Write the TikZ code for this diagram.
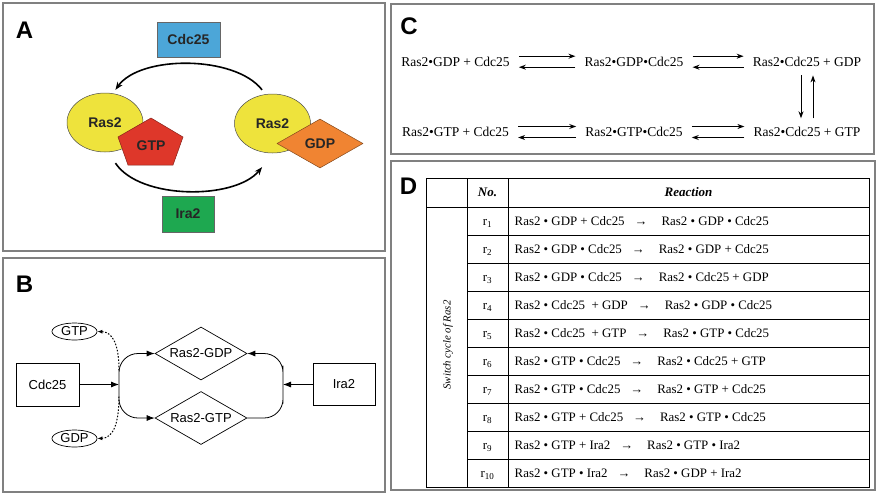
\documentclass[tikz,border=0pt]{standalone}
\usepackage{fontspec}
\setmainfont{Liberation Serif}
\newfontfamily\arialfont{Liberation Sans}
\usetikzlibrary{shapes.geometric,positioning,arrows.meta}

\definecolor{rasyellow}{RGB}{238,227,60}
\definecolor{gtpred}{RGB}{222,55,42}
\definecolor{gdporange}{RGB}{240,132,50}
\definecolor{cdcblue}{RGB}{76,166,216}
\definecolor{iragreen}{RGB}{30,168,80}

\tikzset{
  panel/.style={draw=black!50, line width=1.3pt},
  plabel/.style={font=\arialfont\bfseries\fontsize{24}{24}\selectfont, inner sep=0pt},
  atext/.style={font=\arialfont\bfseries\fontsize{14}{16}\selectfont, text=black!85},
  abox/.style={atext, draw=black!60, line width=0.6pt},
  rasball/.style={atext, ellipse, draw=black!70, line width=0.5pt, fill=rasyellow,
    minimum width=76pt, minimum height=59pt, inner sep=0pt},
  btext/.style={font=\arialfont\fontsize{13}{15}\selectfont},
  bbox/.style={btext, draw, line width=0.7pt},
  rasdia/.style={btext, diamond, draw, line width=0.7pt, shape aspect=1.74,
    minimum width=92pt, minimum height=53pt, inner sep=0pt},
  nucell/.style={btext, ellipse, draw, line width=0.7pt,
    minimum width=45pt, minimum height=17pt, inner sep=0pt},
  barrow/.style={-{Latex[length=8pt,width=6pt]}, line width=0.8pt},
  dotarrow/.style={line width=1pt, dash pattern=on 1.6pt off 1.6pt, -{Latex[length=5pt,width=4pt]}},
  eq/.style={font=\fontsize{13.5}{15}\selectfont, inner sep=0pt, text height=9pt, text depth=0pt},
  eqarrow/.style={-{Stealth[length=7pt,width=5pt]}, line width=1pt, shorten <=9pt, shorten >=9pt},
  tcell/.style={font=\fontsize{12.9}{14}\selectfont, inner sep=0pt, text height=8.5pt, text depth=0pt},
  thead/.style={tcell, font=\fontsize{13}{14}\selectfont\bfseries\itshape}
}

\begin{document}
\begin{tikzpicture}[x=1pt, y=-1pt, node distance=70.3pt, on grid]
\useasboundingbox (0,0) rectangle (878,496);

\draw[panel] (3,3) rectangle (385,251);
\draw[panel] (3,258) rectangle (385,492);
\draw[panel] (391,4) rectangle (874,154);
\draw[panel] (391,161) rectangle (875,490);


\node[plabel] (la) at (24.5,30) {A};
\node[abox, fill=cdcblue, minimum width=63pt, minimum height=35pt] (cdca) at (188.5,39.5) {Cdc25};
\node[abox, fill=iragreen, minimum width=52pt, minimum height=36pt] (iraa) at (188,214) {Ira2};
\node[rasball] (rasl) at (105,122.5) {Ras2};
\node[rasball] (rasr) at (272.5,123.5) {Ras2};
\filldraw[fill=gtpred, draw=gtpred!60!black, line width=0.5pt]
  (151,118) -- (183,137) -- (173,165) -- (128,165) -- (118,137) -- cycle;
\node[atext] (gtpa) at (151,146) {GTP};
\node[atext, diamond, draw=gdporange!55!black, line width=0.5pt, fill=gdporange, shape aspect=1.75,
  minimum width=86pt, minimum height=49pt, inner sep=0pt] (gdpa) at (320,143.5) {GDP};

\draw[-{Stealth[length=8pt,width=6pt]}, line width=1.6pt]
  ([yshift=5pt]rasr.110) .. controls (235,55) and (140,55) .. ([yshift=4pt]rasl.70);
\draw[-{Stealth[length=8pt,width=6pt]}, line width=1.6pt]
  ([yshift=-12pt]rasl.-70) .. controls (140,200) and (235,200) .. ([yshift=-15pt]rasr.-110);


\node[plabel] (lb) at (24.5,284.5) {B};
\node[bbox, minimum width=63pt, minimum height=43pt] (cdcb) at (47.5,384.5) {Cdc25};
\node[bbox, minimum width=62pt, minimum height=42pt] (irab) at (344,384.5) {Ira2};
\node[rasdia] (rgdp) at (201,353.5) {Ras2-GDP};
\node[rasdia] (rgtp) at (201,418) {Ras2-GTP};
\node[nucell] (gtpb) at (74.5,331.5) {GTP};
\node[nucell] (gdpb) at (74.5,438.5) {GDP};
\coordinate (jl) at (119,384.5);
\coordinate (jr) at (283,384.5);

\path[barrow]
(cdcb) edge (jl)
(irab) edge (jr);

\draw[barrow, rounded corners=19pt] (jl) |- (rgdp.west);
\draw[barrow, rounded corners=19pt] (jl) |- (rgtp.west);
\draw[barrow, rounded corners=19pt] (rgtp.east) -| (jr) |- (rgdp.east);

\draw[dotarrow] ([yshift=14pt]jl) .. controls (119,345) and (113,332) .. (gtpb.east);
\draw[dotarrow] ([yshift=-12pt]jl) .. controls (119,424) and (113,438) .. (gdpb.east);


\node[plabel] (lc) at (409,26.5) {C};
\node[eq] (c1) at (455.5,61.7) {Ras2•GDP + Cdc25};
\node[eq] (c2) at (634,61.7) {Ras2•GDP•Cdc25};
\node[eq] (c3) at (807,61.7) {Ras2•Cdc25 + GDP};
\node[eq] (d1) [below=of c1] {Ras2•GTP + Cdc25};
\node[eq] (d2) [below=of c2] {Ras2•GTP•Cdc25};
\node[eq] (d3) [below=of c3] {Ras2•Cdc25 + GTP};

\path[eqarrow]
([yshift=5.5pt]c1.east) edge ([yshift=5.5pt]c2.west)
([yshift=-5.5pt]c2.west) edge ([yshift=-5.5pt]c1.east)
([yshift=5.5pt]c2.east) edge ([yshift=5.5pt]c3.west)
([yshift=-5.5pt]c3.west) edge ([yshift=-5.5pt]c2.east);

\path[eqarrow]
([yshift=5.5pt]d1.east) edge ([yshift=5.5pt]d2.west)
([yshift=-5.5pt]d2.west) edge ([yshift=-5.5pt]d1.east)
([yshift=5.5pt]d2.east) edge ([yshift=5.5pt]d3.west)
([yshift=-5.5pt]d3.west) edge ([yshift=-5.5pt]d2.east);

\path[eqarrow]
([xshift=-6pt]c3.south) edge ([xshift=-6pt]d3.north)
([xshift=6pt]d3.north) edge ([xshift=6pt]c3.south);


\node[plabel] (ld) at (408.5,186) {D};
\draw[line width=0.8pt] (426,178) rectangle (869,487);
\draw[line width=0.7pt] (467,178) -- (467,487);
\draw[line width=0.7pt] (508,178) -- (508,487);
\draw[line width=0.7pt] (426,207) -- (869,207);
\foreach \k in {1,...,9}
  \draw[line width=0.7pt] (467,{207+28*\k}) -- (869,{207+28*\k});

\node[thead] (no) at (487.5,192.5) {No.};
\node[thead] (reac) at (688.5,192.5) {Reaction};
\node[rotate=90, font=\fontsize{10.8}{12}\selectfont\itshape] (cyc) at (448,345) {Switch cycle of Ras2};

\foreach \k/\lhs/\rhs in {
  1/{Ras2 • GDP + Cdc25}/{Ras2 • GDP • Cdc25},
  2/{Ras2 • GDP • Cdc25}/{Ras2 • GDP + Cdc25},
  3/{Ras2 • GDP • Cdc25}/{Ras2 • Cdc25 + GDP},
  4/{Ras2 • Cdc25\ \ + GDP}/{Ras2 • GDP • Cdc25},
  5/{Ras2 • Cdc25\ \ + GTP}/{Ras2 • GTP • Cdc25},
  6/{Ras2 • GTP • Cdc25}/{Ras2 • Cdc25 + GTP},
  7/{Ras2 • GTP • Cdc25}/{Ras2 • GTP + Cdc25},
  8/{Ras2 • GTP + Cdc25}/{Ras2 • GTP • Cdc25},
  9/{Ras2 • GTP + Ira2}/{Ras2 • GTP • Ira2},
  10/{Ras2 • GTP • Ira2}/{Ras2 • GDP + Ira2}} {
  \node[tcell] (r\k) at (487.5,{193+28*\k}) {r\textsubscript{\k}};
  \node[tcell, anchor=west] (e\k) at (514.5,{193+28*\k}) {\lhs\hspace{10pt}→\hspace{14pt}\rhs};
}

\end{tikzpicture}
\end{document}
